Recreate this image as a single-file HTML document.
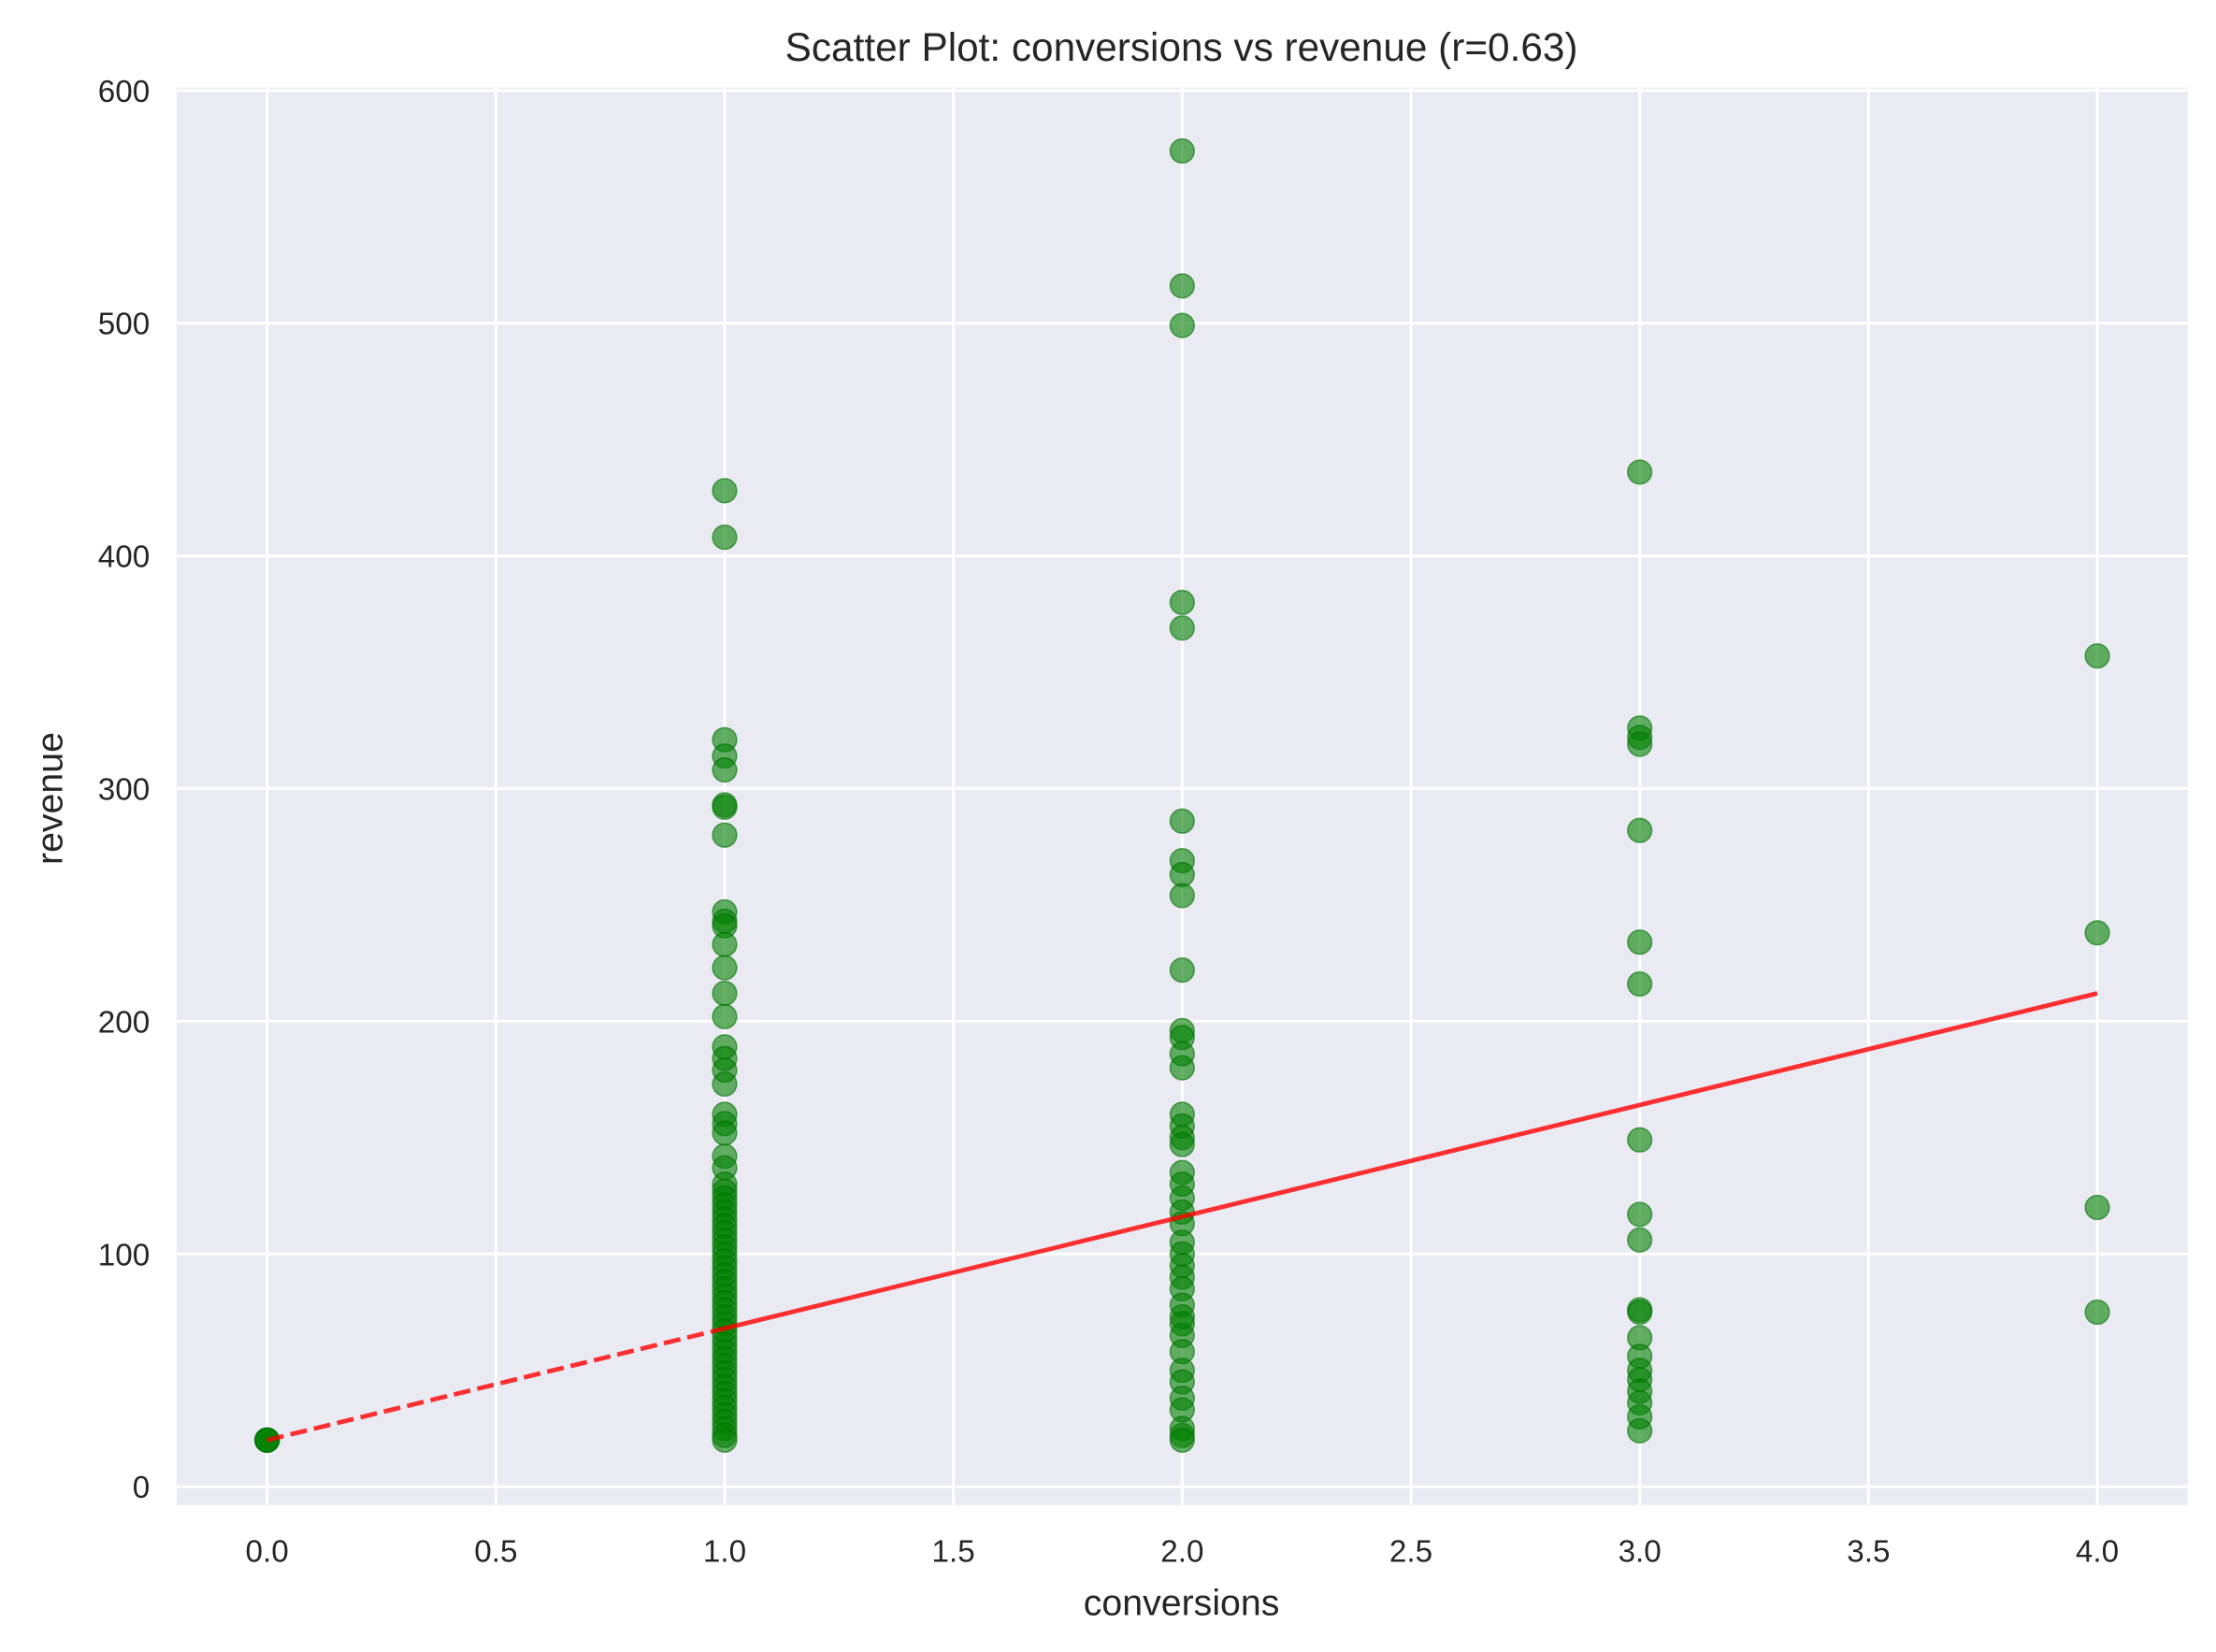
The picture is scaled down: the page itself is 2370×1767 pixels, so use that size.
<!DOCTYPE html>
<html><head><meta charset="utf-8"><style>
html,body{margin:0;padding:0;background:#fff;}
svg{display:block;font-family:"Liberation Sans",Arial,sans-serif;}
</style></head><body>
<svg id="chart" width="2370" height="1767" viewBox="0 0 1568 1169" preserveAspectRatio="none">
<rect x="0" y="0" width="1568" height="1169" fill="#fff"/>
<text x="836" y="43" text-anchor="middle" font-size="28" fill="#262626">Scatter Plot: conversions vs revenue (r=0.63)</text>
<text x="836" y="1143" text-anchor="middle" font-size="26" fill="#262626">conversions</text>
<text transform="translate(44,565) rotate(-90)" text-anchor="middle" font-size="26" fill="#262626">revenue</text>
<g id="plot"></g>
</svg>
<script>
const xTicks=[0,0.5,1,1.5,2,2.5,3,3.5,4];
const yTicks=[0,100,200,300,400,500,600];
const ys0=[20,20,20,20];
const ys1=[428,408,321,314,308,293,292,280,247,243,241,233,223,212,202,189,184,179,173,160,156,152,142,137,130,127,124,121,118,115,112,109,106,103,100,97,94,91,88,85,82,79,76,73,70,67,64,61,58,55,52,49,46,43,40,37,34,31,28,25,22,20];
const ys2=[574,516,499,380,369,286,269,263,254,222,196,193,186,180,160,155,150,147,135,130,124,118,113,105,100,95,90,85,78,73,70,65,58,50,45,38,33,25,22,20];
const ys3=[436,326,322,319,282,234,216,149,117,106,76,75,64,56,50,46,41,36,30,24];
const ys4=[357,238,120,75];
const fitIntercept=20, fitSlope=48;
const NS='http://www.w3.org/2000/svg';
const L=189,R=1484,Y0=1052,Y600=64;
const px=v=>L+(R-L)*v/4;
const py=v=>Y0+(Y600-Y0)*v/600;
const g=document.getElementById('plot');
function mk(t,a){const e=document.createElementNS(NS,t);for(const k in a)e.setAttribute(k,a[k]);g.appendChild(e);return e;}
const bg=mk('rect',{x:125,y:62,width:1423,height:1003,fill:'#eaeaf2'});


xTicks.forEach(t=>{
 const l=mk('line',{x1:px(t),x2:px(t),y1:62,y2:1065,stroke:'#fff','stroke-width':2});
 
 
 const tx=mk('text',{x:px(t),y:1105,'text-anchor':'middle','font-size':22,fill:'#262626'});
 tx.textContent=t.toFixed(1);
 
 
});
yTicks.forEach(t=>{
 const l=mk('line',{x1:125,x2:1548,y1:py(t),y2:py(t),stroke:'#fff','stroke-width':2});
 
 
 const tx=mk('text',{x:106,y:py(t)+8,'text-anchor':'end','font-size':22,fill:'#262626'});
 tx.textContent=t;
 
 
});
const groups=[[0,ys0],[1,ys1],[2,ys2],[3,ys3],[4,ys4]];
groups.forEach(([x,ys])=>ys.forEach(y=>{
 const c=mk('circle',{cx:px(x),cy:py(y),r:8.5,fill:'rgba(0,128,0,0.6)',stroke:'rgba(0,110,0,0.6)','stroke-width':1});
 
 
}));
const d=mk('line',{x1:px(0),y1:py(fitIntercept),x2:px(1),y2:py(fitIntercept+fitSlope),stroke:'rgba(255,0,0,0.8)','stroke-width':3.2,'stroke-dasharray':'12 5'});


const s=mk('line',{x1:px(1),y1:py(fitIntercept+fitSlope),x2:px(4),y2:py(fitIntercept+4*fitSlope),stroke:'rgba(255,0,0,0.8)','stroke-width':3.2});


</script>
</body></html>
